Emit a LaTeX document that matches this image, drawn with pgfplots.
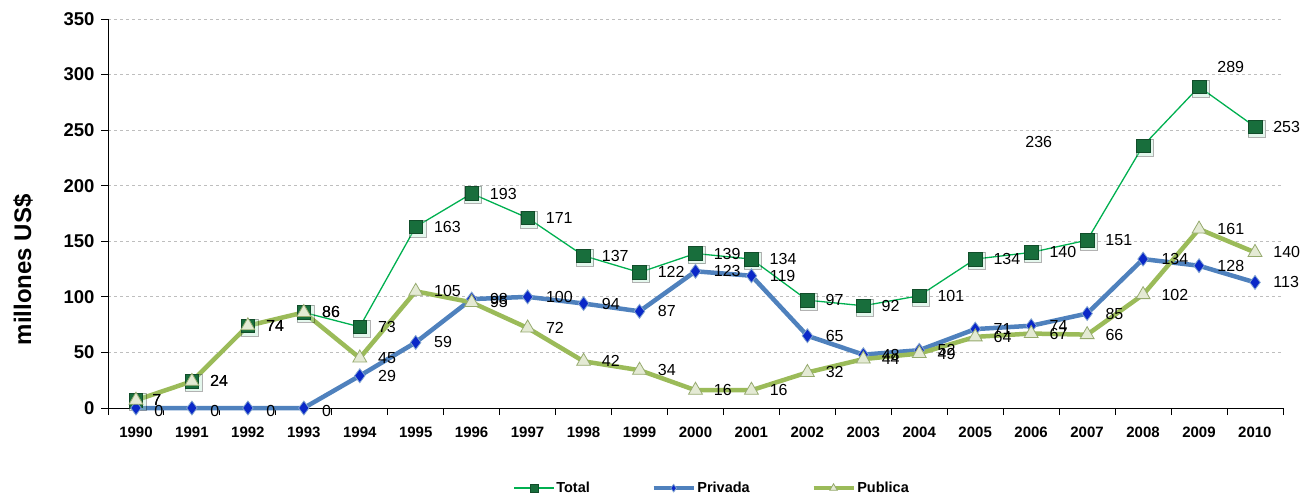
\documentclass[border=0pt]{standalone}
\usepackage{pgfplots}
\pgfplotsset{compat=1.18}
\usepackage{pgfplotstable}
\usepackage{fontspec}
\setmainfont{Liberation Sans}
\definecolor{totalline}{RGB}{0,176,80}
\definecolor{totalfill}{RGB}{24,110,60}
\definecolor{privline}{RGB}{79,129,189}
\definecolor{privmark}{RGB}{10,40,200}
\definecolor{publine}{RGB}{155,187,89}
\definecolor{pubfill}{RGB}{228,234,212}
\definecolor{pubdraw}{RGB}{150,170,110}
\definecolor{gridc}{RGB}{190,190,190}

\pgfplotstableread{
x y dx dy
1990 7 16 0
1991 24 18 0
1992 74 18 0
1993 86 18 0
1994 73 18 0
1995 163 18 0
1996 193 18 0
1997 171 18 0
1998 137 18 0
1999 122 18 0
2000 139 18 0
2001 134 18 0
2002 97 18 0
2003 92 18 0
2004 101 18 0
2005 134 18 0
2006 140 18 0
2007 151 18 0
2008 236 -118 4
2009 289 18 20
2010 253 18 0
}\totaltab

\pgfplotstableread{
x y dx dy
1990 0 18 -3
1991 0 18 -3
1992 0 18 -3
1993 0 18 -3
1994 29 18 0
1995 59 18 0
1996 98 18 0
1997 100 18 0
1998 94 18 0
1999 87 18 0
2000 123 18 0
2001 119 18 0
2002 65 18 0
2003 48 18 0
2004 52 18 0
2005 71 18 0
2006 74 18 0
2007 85 18 0
2008 134 18 0
2009 128 18 0
2010 113 18 0
}\privtab

\pgfplotstableread{
x y dx dy
1990 7 16 0
1991 24 18 0
1992 74 18 0
1993 86 18 0
1994 45 18 0
1995 105 18 0
1996 95 18 0
1997 72 18 0
1998 42 18 0
1999 34 18 0
2000 16 18 0
2001 16 18 0
2002 32 18 0
2003 44 18 0
2004 49 18 0
2005 64 18 0
2006 67 18 0
2007 66 18 0
2008 102 18 0
2009 161 18 0
2010 140 18 0
}\pubtab

\begin{document}
\begin{tikzpicture}
\begin{axis}[
  at={(108pt,90pt)}, anchor=south west,
  scale only axis, width=1175pt, height=389pt,
  xmin=1989.5, xmax=2010.5, ymin=0, ymax=350,
  clip=false,
  axis lines=left, axis line style={-, black, line width=0.9pt},
  xtick={1990,...,2010},
  minor xtick={1989.5,1990.5,...,2010.5},
  major x tick style={draw=none},
  minor x tick style={black, line width=0.9pt},
  minor tick length=7pt,
  ytick={0,50,...,350},
  major tick length=7pt,
  y tick style={black, line width=0.9pt},
  tick align=outside,
  ymajorgrids, grid style={gridc, dashed, line width=0.8pt},
  /pgf/number format/assume math mode=true,
  /pgf/number format/1000 sep={},
  xticklabel style={font=\fontsize{15}{17}\selectfont\bfseries, yshift=-8pt},
  yticklabel style={font=\fontsize{18.5}{20}\selectfont\bfseries, xshift=-3pt},
  ylabel={millones US\$},
  ylabel style={font=\fontsize{24}{26}\selectfont\bfseries, at={(axis description cs:-0.0723,0.355)}, anchor=center},
  nodes near coords,
  visualization depends on={\thisrow{dx} \as \dx},
  visualization depends on={\thisrow{dy} \as \dy},
  every node near coord/.append style={font=\fontsize{16}{18}\selectfont, anchor=west, xshift=\dx pt, yshift=\dy pt, inner sep=0pt, black},
  legend columns=3,
  legend style={at={(0.514,-0.206)}, anchor=center, draw=none, fill=none,
    font=\fontsize{14.5}{16}\selectfont\bfseries,
    /tikz/every even column/.append style={column sep=60pt},
    nodes={inner sep=1.5pt}},
  legend image code/.code={\draw[mark repeat=2,mark phase=2,#1, every mark/.append style={scale=0.55}] plot coordinates {(0pt,0pt) (20pt,0pt) (40pt,0pt)};},
]
% glow for Total
\addplot[forget plot, only marks, mark=square*, mark size=8.5pt, nodes near coords={},
  mark options={fill=totalline!35, draw=none, opacity=0.3, xshift=1.5pt, yshift=-1.5pt}] table[x=x,y=y] {\totaltab};
\addplot[totalline, line width=1.3pt, mark=square*, mark size=6.8pt,
  mark options={fill=totalfill, draw=totalfill!70!black, line width=0.6pt}] table[x=x,y=y] {\totaltab};
\addlegendentry{Total}
\addplot[privline, line width=4.5pt, mark=diamond*, mark size=7pt,
  mark options={fill=privmark, draw=privline!70!white, line width=0.8pt}] table[x=x,y=y] {\privtab};
\addlegendentry{Privada}
\addplot[publine, line width=4.5pt, mark=triangle*, mark size=8pt,
  mark options={fill=pubfill, draw=pubdraw, line width=0.8pt}] table[x=x,y=y] {\pubtab};
\addlegendentry{Publica}
\end{axis}
\pgfresetboundingbox
\path[use as bounding box] (0,0) rectangle (1313pt,498pt);
\end{tikzpicture}
\end{document}
